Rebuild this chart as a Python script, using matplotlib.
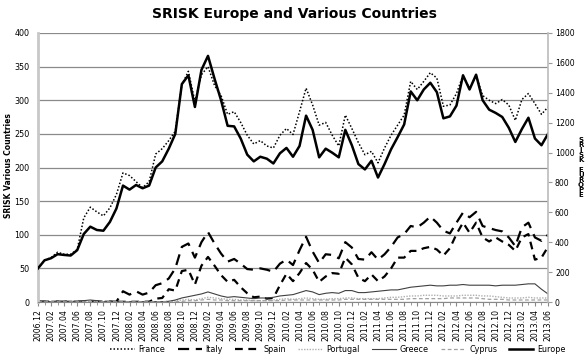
import matplotlib.pyplot as plt

# month labels 2006.12 .. 2013.06
months = []
yr, mo = 2006, 12
for k in range(79):
    months.append("%d.%02d" % (yr, mo))
    mo += 1
    if mo > 12:
        mo = 1
        yr += 1

# values (left axis, $bn)
france = [50, 62, 66, 74, 71, 71, 78, 125, 141, 134, 128, 140, 160, 192, 188, 179, 170, 179, 220, 228,
          240, 254, 323, 343, 298, 338, 350, 322, 307, 279, 283, 267, 248, 235, 240, 232, 229, 248, 258, 249,
          283, 318, 293, 263, 267, 248, 232, 278, 258, 237, 219, 224, 207, 229, 248, 263, 278, 328, 316, 328,
          341, 333, 291, 293, 310, 337, 317, 337, 307, 300, 295, 301, 293, 270, 301, 310, 295, 279, 290]
italy = [0.5, 0.5, 0.5, 0.5, 0.5, 0.5, 0.5, 0.5, 0.5, 0.5, 0.5, 0.5, 0.5, 16, 11, 16, 11, 14, 25, 28,
         35, 50, 82, 87, 66, 89, 104, 87, 72, 60, 64, 57, 49, 48, 50, 48, 45, 57, 63, 55,
         77, 97, 75, 58, 71, 70, 65, 89, 81, 64, 63, 74, 63, 71, 82, 96, 101, 113, 111, 118,
         127, 118, 106, 102, 118, 133, 126, 134, 113, 110, 107, 105, 96, 83, 111, 118, 96, 91, 100]
spain = [0.3, 0.3, 0.3, 0.3, 0.3, 0.3, 0.3, 0.3, 0.3, 0.3, 0.3, 0.3, 0.3, 0.3, 0.3, 0.3, 0.3, 0.5, 5, 6,
         19, 17, 46, 48, 26, 54, 67, 54, 40, 30, 33, 22, 13, 7, 8, 5, 6, 25, 42, 31,
         43, 58, 48, 30, 38, 43, 42, 66, 56, 36, 31, 41, 31, 38, 50, 66, 66, 76, 76, 80,
         82, 78, 69, 80, 101, 118, 103, 118, 96, 90, 96, 90, 85, 76, 96, 101, 63, 66, 82]
portugal = [0.5] * 20 + [1, 2, 3, 4, 3, 5, 7, 6, 5, 4, 4, 3, 3, 2, 2, 2, 3, 4, 5, 4,
            5, 6, 5, 4, 4, 5, 5, 6, 6, 5, 5, 5, 5, 6, 7, 7, 8, 9, 9, 10,
            10, 10, 9, 9, 9, 10, 10, 10, 9, 9, 8, 7, 6, 6, 6, 7, 6, 6, 6]
greece = [0.5, 0.5, 0.5, 0.5, 0.5, 0.5, 0.5, 2, 3, 2, 0.5, 0.5, 0.5, 0.5, 0.5, 0.5, 0.5, 0.5, 0.5, 0.5,
          1, 3, 6, 8, 10, 12, 15, 12, 9, 7, 8, 7, 6, 5, 6, 6, 7, 9, 10, 11,
          14, 17, 15, 11, 13, 14, 13, 17, 17, 14, 14, 15, 16, 17, 18, 18, 20, 22, 23, 24,
          25, 24, 24, 25, 25, 26, 25, 25, 25, 25, 24, 25, 25, 25, 26, 27, 27, 19, 12]
cyprus = [0.3] * 22 + [1, 2, 2, 3, 4, 3, 3, 2, 2, 2, 2, 2, 2, 2, 2, 2, 3, 3,
          3, 3, 3, 3, 3, 3, 3, 4, 4, 4, 4, 4, 4, 4, 4, 4, 4, 5, 5, 5,
          5, 5, 5, 6, 6, 6, 6, 6, 5, 4, 4, 4, 3, 3, 3, 3, 3, 3, 3]
# Europe on the right axis
europe = [225, 279, 293, 320, 315, 311, 347, 455, 504, 482, 477, 536, 626, 779, 752, 783, 761, 779, 900, 941,
          1026, 1125, 1458, 1517, 1305, 1553, 1647, 1494, 1350, 1179, 1175, 1094, 986, 941, 972, 959, 927, 995, 1031, 972,
          1044, 1247, 1152, 968, 1026, 999, 968, 1152, 1049, 923, 887, 945, 833, 923, 1022, 1103, 1188, 1409, 1350, 1422,
          1467, 1404, 1229, 1242, 1314, 1517, 1422, 1521, 1350, 1287, 1265, 1238, 1166, 1071, 1157, 1233, 1094, 1049, 1125]

x = list(range(len(months)))

fig = plt.figure(figsize=(5.88, 3.61), dpi=100)
ax = fig.add_axes([0.0646, 0.1634, 0.8674, 0.7452])
ax2 = ax.twinx()

h1, = ax.plot(x, france, color="black", ls=(0, (1, 1.3)), lw=1.1, label="France")
h2, = ax.plot(x, italy, color="black", ls=(0, (5, 3)), lw=1.6, label="Italy")
h3, = ax.plot(x, spain, color="black", ls=(0, (3.5, 2.5)), lw=1.6, label="Spain")
h4, = ax.plot(x, portugal, color="#b0b0b0", ls=(0, (1, 1)), lw=1.0, label="Portugal")
h5, = ax.plot(x, greece, color="#404040", ls="-", lw=0.8, label="Greece")
h6, = ax.plot(x, cyprus, color="#a0a0a0", ls=(0, (3, 2)), lw=0.9, label="Cyprus")
h7, = ax2.plot(x, europe, color="black", lw=1.8, label="Europe")

ax.set_xlim(0, 78)
ax.set_ylim(0, 400)
ax2.set_ylim(0, 1800)
ax.set_yticks(range(0, 401, 50))
ax2.set_yticks(range(0, 1801, 200))
ax.set_xticks(x[::2])
ax.set_xticklabels(months[::2], rotation=90, fontsize=5.6)
ax.set_xticks(x, minor=True)
ax.grid(axis="y", color="#8a8a8a", lw=0.9)
ax.set_axisbelow(True)

ax.tick_params(axis="y", labelsize=5.8, length=0, pad=6)
ax.tick_params(axis="x", length=3, color="#888888", pad=2)
ax.tick_params(axis="x", which="minor", length=2, color="#888888")
ax2.tick_params(axis="y", labelsize=5.6, length=3, color="#999999", pad=2)

for s in ["top"]:
    ax.spines[s].set_visible(False)
    ax2.spines[s].set_visible(False)
ax.spines["left"].set_color("#c8c8c8")
ax.spines["left"].set_linewidth(2)
ax2.spines["left"].set_visible(False)
ax2.spines["right"].set_color("#bbbbbb")
ax2.spines["right"].set_linewidth(1.2)
ax.spines["bottom"].set_color("#888888")
ax2.spines["bottom"].set_visible(False)
ax.spines["right"].set_visible(False)

fig.text(0.5, 0.962, "SRISK Europe and Various Countries", ha="center", va="center",
         fontsize=10, fontweight="bold")
fig.text(0.014, 0.54, "SRISK Various Countries", rotation=90, ha="center", va="center",
         fontsize=5.5, fontweight="bold")
fig.text(0.988, 0.535, "\n".join("SRISK EUROPE").replace(" ", ""), ha="center", va="center",
         fontsize=5.0, fontweight="bold", linespacing=0.8)

fig.legend([h1, h2, h3, h4, h5, h6, h7], ["France", "Italy", "Spain", "Portugal", "Greece", "Cyprus", "Europe"],
           loc="center", bbox_to_anchor=(0.575, 0.033), ncol=7, frameon=False, fontsize=5.8,
           handlelength=3.0, columnspacing=1.5, handletextpad=0.5)

fig.savefig("out.png", dpi=100)
